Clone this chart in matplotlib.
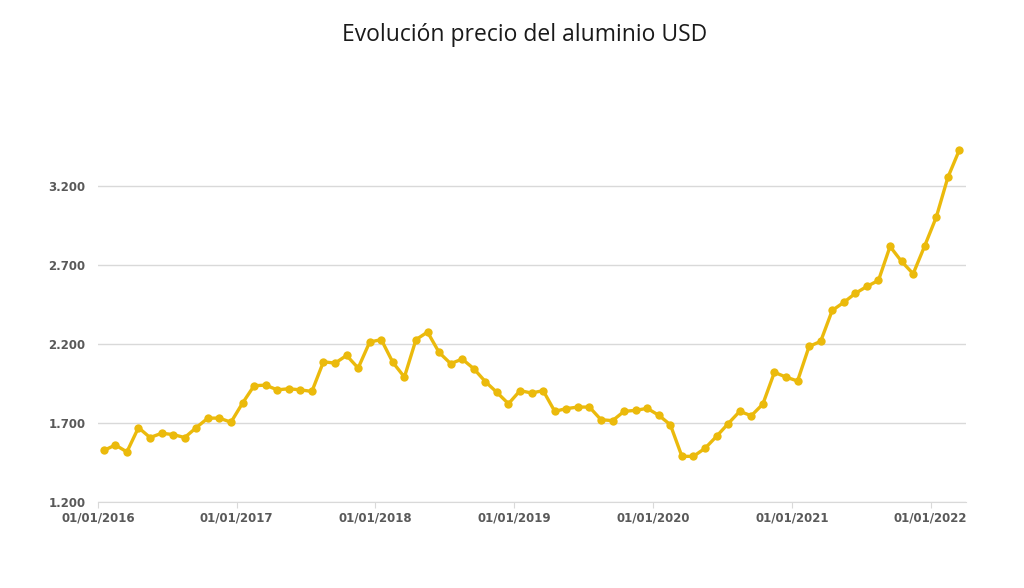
import matplotlib.pyplot as plt
from matplotlib.ticker import FuncFormatter

# precio mensual del aluminio (USD/t), ene 2016 - mar 2022
precios = [1526, 1561, 1517, 1671, 1608, 1635, 1627, 1608, 1671, 1731, 1731, 1705,
           1826, 1936, 1940, 1910, 1917, 1910, 1900, 2088, 2079, 2128, 2048, 2213,
           2228, 2084, 1991, 2228, 2276, 2147, 2076, 2105, 2044, 1962, 1894, 1822,
           1905, 1890, 1905, 1774, 1791, 1801, 1801, 1721, 1715, 1774, 1780, 1793,
           1749, 1689, 1489, 1489, 1540, 1616, 1696, 1774, 1746, 1820, 2021, 1991,
           1966, 2185, 2217, 2413, 2464, 2521, 2565, 2603, 2818, 2723, 2645, 2822,
           3004, 3255, 3430]
anios = ['01/01/2016', '01/01/2017', '01/01/2018', '01/01/2019',
         '01/01/2020', '01/01/2021', '01/01/2022']
y_ticks = [1200, 1700, 2200, 2700, 3200]

fig = plt.figure(figsize=(10.24, 5.88), dpi=100)
ax = fig.add_axes([0.0957, 0.1463, 0.848, 0.658])

meses = list(range(len(precios)))
ax.plot(meses, precios, color='#EBBA0C', linewidth=2.4, marker='o',
        markersize=6, markeredgewidth=0, zorder=3)

ax.set_xlim(-0.5, 74.6)
ax.set_ylim(1200, 3650)
ax.set_xticks([12 * i - 0.5 for i in range(len(anios))])
ax.set_xticklabels(anios)
ax.set_yticks(y_ticks)
ax.yaxis.set_major_formatter(FuncFormatter(lambda v, p: f'{int(v):,}'.replace(',', '.')))

ax.grid(axis='y', color='#D9D9D9', linewidth=1)
ax.set_axisbelow(True)
for s in ['top', 'right', 'left']:
    ax.spines[s].set_visible(False)
ax.spines['bottom'].set_color('#D9D9D9')
ax.tick_params(axis='y', length=0, pad=9, labelsize=8.5, labelcolor='#595959')
ax.tick_params(axis='x', length=4, color='#D9D9D9', pad=3, labelsize=8.5, labelcolor='#595959')
for lbl in ax.get_xticklabels() + ax.get_yticklabels():
    lbl.set_fontweight('bold')

fig.text(525 / 1024, 1 - 35 / 588, 'Evolución precio del aluminio USD',
         ha='center', va='center', fontsize=16.5, color='#1A1A1A', family='Open Sans')

fig.savefig('out.png')
